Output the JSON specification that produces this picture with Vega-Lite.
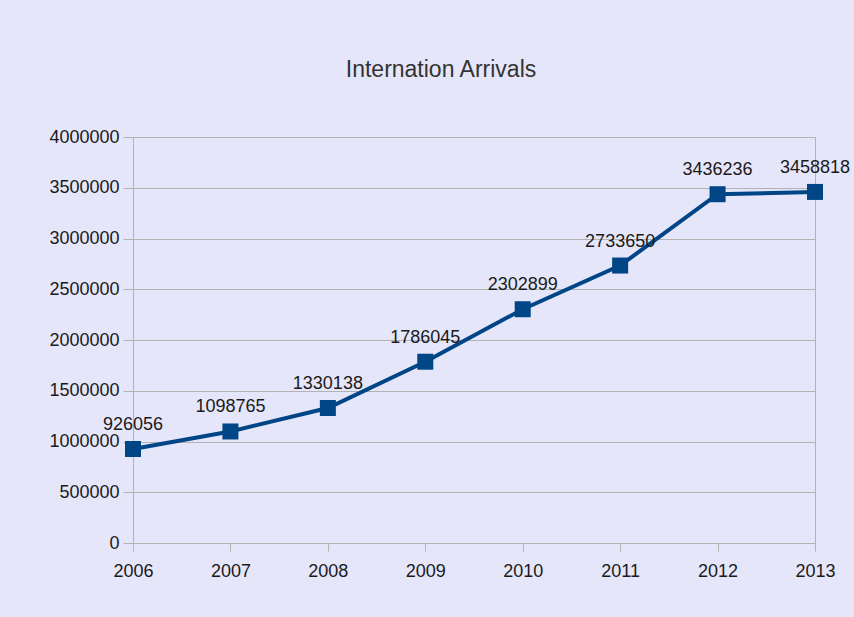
{
  "$schema": "https://vega.github.io/schema/vega-lite/v6.json",
  "width": 682,
  "height": 406,
  "autosize": "none",
  "padding": {"left": 133, "top": 137, "right": 39, "bottom": 74},
  "background": "#E6E6FA",
  "title": {
    "text": "Internation Arrivals",
    "font": "Liberation Sans, Arial, sans-serif",
    "fontSize": 23,
    "fontWeight": "normal",
    "color": "#333333",
    "anchor": "middle",
    "dx": -33,
    "offset": 46
  },
  "data": {
    "values": [
      {"year": "2006", "arrivals": 926056},
      {"year": "2007", "arrivals": 1098765},
      {"year": "2008", "arrivals": 1330138},
      {"year": "2009", "arrivals": 1786045},
      {"year": "2010", "arrivals": 2302899},
      {"year": "2011", "arrivals": 2733650},
      {"year": "2012", "arrivals": 3436236},
      {"year": "2013", "arrivals": 3458818}
    ]
  },
  "config": {
    "view": {"stroke": "#b3b3b3", "strokeWidth": 1},
    "axis": {
      "labelFont": "Liberation Sans, Arial, sans-serif",
      "labelFontSize": 18,
      "labelColor": "#1a1a1a",
      "domainColor": "#b3b3b3",
      "tickColor": "#b3b3b3",
      "gridColor": "#b3b3b3",
      "title": null
    }
  },
  "encoding": {
    "x": {
      "field": "year",
      "type": "ordinal",
      "scale": {"type": "point", "padding": 0},
      "axis": {"labelAngle": 0, "grid": false, "tickSize": 8, "labelPadding": 11}
    },
    "y": {
      "field": "arrivals",
      "type": "quantitative",
      "scale": {"domain": [0, 4000000]},
      "axis": {"values": [0, 500000, 1000000, 1500000, 2000000, 2500000, 3000000, 3500000, 4000000], "format": "d", "tickSize": 10, "labelPadding": 4, "grid": true}
    }
  },
  "layer": [
    {"mark": {"type": "line", "color": "#004586", "strokeWidth": 4}},
    {"mark": {"type": "square", "color": "#004586", "size": 256, "opacity": 1, "filled": true}},
    {
      "mark": {"type": "text", "dy": -19, "baseline": "alphabetic", "align": "center", "font": "Liberation Sans, Arial, sans-serif", "fontSize": 18, "color": "#1a1a1a"},
      "encoding": {"text": {"field": "arrivals", "type": "quantitative", "format": "d"}}
    }
  ]
}
